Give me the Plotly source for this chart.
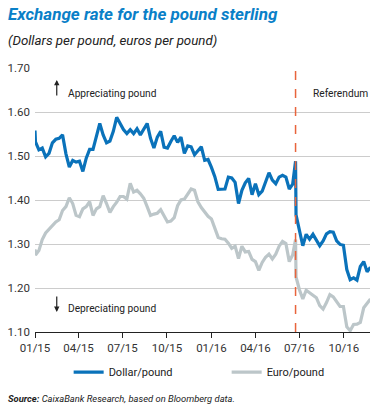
import plotly.graph_objects as go

dates = [
    "2015-01-01", "2015-01-02", "2015-01-09", "2015-01-16", "2015-01-23", "2015-01-30",
    "2015-02-06", "2015-02-13", "2015-02-20", "2015-02-27",
    "2015-03-06", "2015-03-13", "2015-03-20", "2015-03-27",
    "2015-04-03", "2015-04-10", "2015-04-17", "2015-04-24",
    "2015-05-01", "2015-05-08", "2015-05-15", "2015-05-22", "2015-05-29",
    "2015-06-05", "2015-06-12", "2015-06-19", "2015-06-26",
    "2015-07-03", "2015-07-10", "2015-07-17", "2015-07-24", "2015-07-31",
    "2015-08-07", "2015-08-14", "2015-08-21", "2015-08-28",
    "2015-09-04", "2015-09-11", "2015-09-18", "2015-09-25",
    "2015-10-02", "2015-10-09", "2015-10-16", "2015-10-23", "2015-10-30",
    "2015-11-06", "2015-11-13", "2015-11-20", "2015-11-27",
    "2015-12-04", "2015-12-11", "2015-12-18", "2015-12-25",
    "2016-01-01", "2016-01-08", "2016-01-15", "2016-01-22", "2016-01-29",
    "2016-02-05", "2016-02-12", "2016-02-19", "2016-02-26",
    "2016-03-04", "2016-03-11", "2016-03-18", "2016-03-25",
    "2016-04-01", "2016-04-08", "2016-04-15", "2016-04-22", "2016-04-29",
    "2016-05-06", "2016-05-13", "2016-05-20", "2016-05-27",
    "2016-06-03", "2016-06-10", "2016-06-17", "2016-06-23", "2016-06-24",
    "2016-07-01", "2016-07-08", "2016-07-15", "2016-07-22", "2016-07-29",
    "2016-08-05", "2016-08-12", "2016-08-19", "2016-08-26",
    "2016-09-02", "2016-09-09", "2016-09-16", "2016-09-23", "2016-09-30",
    "2016-10-07", "2016-10-14", "2016-10-21", "2016-10-28",
    "2016-11-04", "2016-11-11", "2016-11-18", "2016-11-25",
]

dollar_pound = [
    1.558, 1.532, 1.514, 1.518, 1.498, 1.506,
    1.530, 1.538, 1.540, 1.548,
    1.505, 1.475, 1.490, 1.486,
    1.488, 1.465, 1.495, 1.515,
    1.515, 1.545, 1.574, 1.548, 1.530,
    1.534, 1.556, 1.588, 1.574,
    1.560, 1.551, 1.560, 1.551, 1.562,
    1.548, 1.563, 1.574, 1.540,
    1.518, 1.543, 1.556, 1.520,
    1.518, 1.533, 1.546, 1.531, 1.543,
    1.506, 1.523, 1.521, 1.503,
    1.512, 1.521, 1.490, 1.492,
    1.474, 1.453, 1.424, 1.425, 1.425,
    1.452, 1.450, 1.440, 1.392,
    1.422, 1.439, 1.449, 1.412,
    1.437, 1.412, 1.420, 1.440, 1.462,
    1.445, 1.437, 1.452, 1.456,
    1.452, 1.425, 1.436, 1.488, 1.366,
    1.331, 1.296, 1.322, 1.311, 1.322,
    1.310, 1.296, 1.307, 1.323,
    1.328, 1.327, 1.307, 1.299, 1.297,
    1.242, 1.219, 1.223, 1.218,
    1.249, 1.260, 1.237, 1.247,
]

euro_pound = [
    1.288, 1.275, 1.285, 1.310, 1.325, 1.333,
    1.343, 1.350, 1.355, 1.376,
    1.385, 1.405, 1.392, 1.365,
    1.362, 1.380, 1.385, 1.396,
    1.365, 1.380, 1.385, 1.410, 1.392,
    1.372, 1.385, 1.395, 1.408,
    1.408, 1.402, 1.438, 1.418, 1.422,
    1.414, 1.404, 1.385, 1.365,
    1.368, 1.370, 1.378, 1.362,
    1.350, 1.352, 1.360, 1.387, 1.400,
    1.402, 1.415, 1.425, 1.422,
    1.396, 1.383, 1.372, 1.363,
    1.357, 1.337, 1.315, 1.312, 1.311,
    1.302, 1.290, 1.295, 1.267,
    1.295, 1.282, 1.283, 1.265,
    1.260, 1.240, 1.258, 1.270, 1.277,
    1.266, 1.277, 1.295, 1.306,
    1.301, 1.260, 1.275, 1.310, 1.225,
    1.196, 1.175, 1.195, 1.190, 1.183,
    1.178, 1.160, 1.152, 1.167,
    1.185, 1.180, 1.168, 1.158, 1.158,
    1.112, 1.103, 1.117, 1.118,
    1.122, 1.155, 1.165, 1.175,
]

y_ticks = [1.10, 1.20, 1.30, 1.40, 1.50, 1.60, 1.70]
referendum_date = "2016-06-23"

FONT = "Roboto, Liberation Sans, sans-serif"
BLUE = "#0a72ba"
GREY = "#bcc6c9"

fig = go.Figure()
fig.add_trace(go.Scatter(x=dates, y=euro_pound, name="Euro/pound", mode="lines",
                         line=dict(color=GREY, width=3.2)))
fig.add_trace(go.Scatter(x=dates, y=dollar_pound, name="Dollar/pound" + "\u00a0" * 18,
                         mode="lines", line=dict(color=BLUE, width=3.2)))

fig.update_layout(
    width=383, height=410,
    margin=dict(l=35, r=13, t=68, b=78, autoexpand=False),
    paper_bgcolor="white", plot_bgcolor="white",
    font=dict(family=FONT, size=12, color="#222222"),
    showlegend=True,
    legend=dict(orientation="h", x=0.49, xanchor="center", y=-0.152, yanchor="middle",
                traceorder="reversed", font=dict(size=11), itemwidth=30),
    xaxis=dict(type="date", range=["2015-01-01", "2016-11-24"], automargin=False,
               tickformat="%m/%y", dtick="M3", tick0="2015-01-01",
               showgrid=False, showline=True, linecolor="#222222", linewidth=1.2,
               ticks="outside", ticklen=5, tickcolor="#222222",
               tickfont=dict(size=11.5, color="#333333")),
    yaxis=dict(range=[1.10, 1.70], tickvals=y_ticks, tickformat=".2f", automargin=False,
               showgrid=True, gridcolor="#cccccc", gridwidth=1,
               zeroline=False, showline=False, ticks="", ticklabelstandoff=4,
               tickfont=dict(size=11.5, color="#333333")),
)

fig.add_shape(type="line", x0=referendum_date, x1=referendum_date, xref="x",
              y0=0, y1=1, yref="paper",
              line=dict(color="#e8643c", width=1.5, dash="dash"))

ann = []
ann.append(dict(text="<b><i>Exchange rate for the pound sterling</i></b>", xref="paper", yref="paper",
                x=-0.087, y=1.205, xanchor="left", yanchor="middle", showarrow=False,
                font=dict(size=17, color="#0a80c8", family=FONT)))
ann.append(dict(text="<i>(Dollars per pound, euros per pound)</i>", xref="paper", yref="paper",
                x=-0.087, y=1.106, xanchor="left", yanchor="middle", showarrow=False,
                font=dict(size=13.3, color="#222222", family=FONT)))
ann.append(dict(text="<b><i>Source:</i></b><i> CaixaBank Research, based on Bloomberg data.</i>",
                xref="paper", yref="paper", x=-0.087, y=-0.25, xanchor="left", yanchor="middle",
                showarrow=False, font=dict(size=9.4, color="#222222", family=FONT)))
ann.append(dict(text="Appreciating pound", xref="x", yref="y", x="2015-03-06", y=1.643,
                xanchor="left", yanchor="middle", showarrow=False, font=dict(size=10.2)))
ann.append(dict(text="Depreciating pound", xref="x", yref="y", x="2015-03-06", y=1.1545,
                xanchor="left", yanchor="middle", showarrow=False, font=dict(size=10.2)))
ann.append(dict(text="Referendum", xref="x", yref="y", x="2016-07-24", y=1.643,
                xanchor="left", yanchor="middle", showarrow=False, font=dict(size=10.2)))
ann.append(dict(text="", xref="x", yref="y", x="2015-02-15", y=1.673, ax=0, ay=17,
                showarrow=True, arrowhead=2, arrowsize=0.9, arrowwidth=1.2, arrowcolor="#222222"))
ann.append(dict(text="", xref="x", yref="y", x="2015-02-15", y=1.1455, ax=0, ay=-17,
                showarrow=True, arrowhead=2, arrowsize=0.9, arrowwidth=1.2, arrowcolor="#222222"))
fig.update_layout(annotations=ann)

fig.write_html("out.html", config={"displayModeBar": False},
               post_script="document.body.style.margin='0px';")
